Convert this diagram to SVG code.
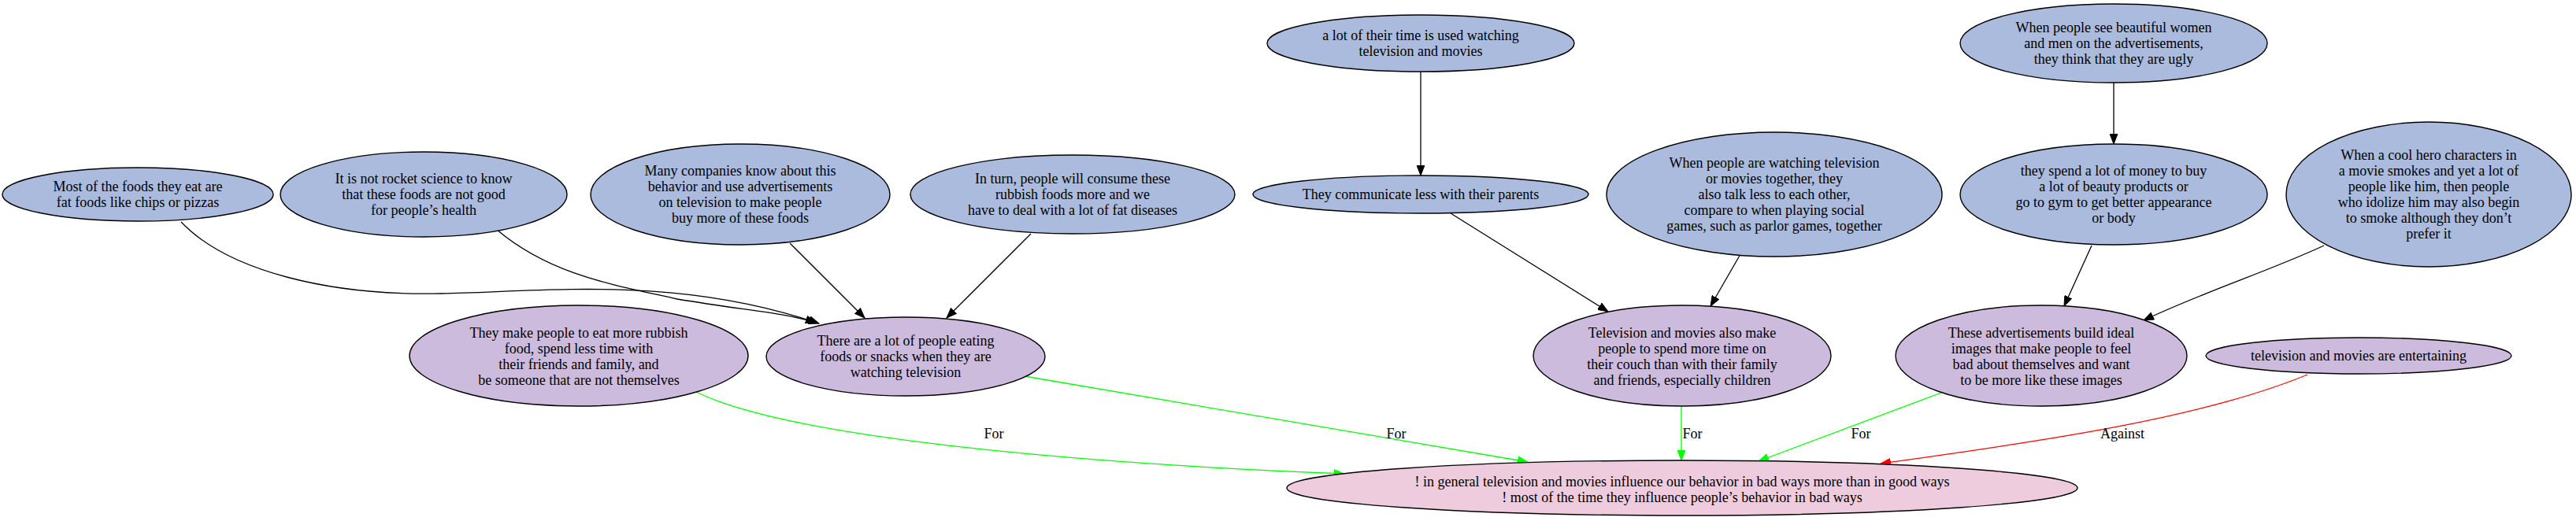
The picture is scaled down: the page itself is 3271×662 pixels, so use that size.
<svg xmlns="http://www.w3.org/2000/svg" width="3271" height="662" viewBox="0 0 3271 662">
<style>
text{font-family:"Liberation Serif","Times New Roman",serif;font-size:18px;text-anchor:middle;fill:#000}
.b{fill:#aabbdd;stroke:#000;stroke-width:1.4}
.p{fill:#ccbbdd;stroke:#000;stroke-width:1.4}
.m{fill:#eeccdd;stroke:#000;stroke-width:1.4}
.e{fill:none;stroke:#000;stroke-width:1.3}
.g{fill:none;stroke:#00ff00;stroke-width:1.3}
.r{fill:none;stroke:#ff0000;stroke-width:1.3}
</style>
<defs>
<marker id="ak" markerUnits="userSpaceOnUse" markerWidth="14" markerHeight="10" refX="13" refY="5" orient="auto"><path d="M0,0 L13,5 L0,10 z" fill="#000" stroke="#000"/></marker>
<marker id="ag" markerUnits="userSpaceOnUse" markerWidth="14" markerHeight="10" refX="13" refY="5" orient="auto"><path d="M0,0 L13,5 L0,10 z" fill="#00ff00" stroke="#00ff00"/></marker>
<marker id="ar" markerUnits="userSpaceOnUse" markerWidth="14" markerHeight="10" refX="13" refY="5" orient="auto"><path d="M0,0 L13,5 L0,10 z" fill="#ff0000" stroke="#ff0000"/></marker>
</defs>
<rect width="3271" height="662" fill="#fff"/>
<g id="connectors">
<path class="e" d="M230,282 C290,345 420,376 560,373 C700,370 860,350 1040,411" marker-end="url(#ak)"/>
<path class="e" d="M631,292 C700,350 780,362 860,380 C950,395 1000,398 1036,410" marker-end="url(#ak)"/>
<path class="e" d="M1003,309 L1098,404" marker-end="url(#ak)"/>
<path class="e" d="M1309,297 L1202,404" marker-end="url(#ak)"/>
<path class="e" d="M1804,91 L1804,223" marker-end="url(#ak)"/>
<path class="e" d="M1842,271 L2042,396" marker-end="url(#ak)"/>
<path class="e" d="M2210,323 L2172,389" marker-end="url(#ak)"/>
<path class="e" d="M2684,105 L2684,183" marker-end="url(#ak)"/>
<path class="e" d="M2656,312 L2621,389" marker-end="url(#ak)"/>
<path class="e" d="M2951,312 C2880,345 2800,370 2722,407" marker-end="url(#ak)"/>
<path class="g" d="M884,498 C1000,555 1350,588 1707,602" marker-end="url(#ag)"/>
<path class="g" d="M1301,478 L1940,587" marker-end="url(#ag)"/>
<path class="g" d="M2135,517 L2135,585" marker-end="url(#ag)"/>
<path class="g" d="M2465,499 L2233,586" marker-end="url(#ag)"/>
<path class="r" d="M2930,476 C2800,530 2600,560 2388,589" marker-end="url(#ar)"/>
<text x="1262" y="557">For</text>
<text x="1773" y="557">For</text>
<text x="2149" y="557">For</text>
<text x="2363" y="557">For</text>
<text x="2695" y="557">Against</text>
</g>
<g id="n1"><ellipse class="b" cx="175" cy="247" rx="172" ry="34"/><text x="175" y="243">Most of the foods they eat are</text><text x="175" y="263">fat foods like chips or pizzas</text></g>
<g id="n2"><ellipse class="b" cx="538" cy="247" rx="182" ry="54"/><text x="538" y="233">It is not rocket science to know</text><text x="538" y="253">that these foods are not good</text><text x="538" y="273">for people’s health</text></g>
<g id="n3"><ellipse class="b" cx="940" cy="247" rx="190" ry="64"/><text x="940" y="223">Many companies know about this</text><text x="940" y="243">behavior and use advertisements</text><text x="940" y="263">on television to make people</text><text x="940" y="283">buy more of these foods</text></g>
<g id="n4"><ellipse class="b" cx="1362" cy="247" rx="206" ry="50"/><text x="1362" y="233">In turn, people will consume these</text><text x="1362" y="253">rubbish foods more and we</text><text x="1362" y="273">have to deal with a lot of fat diseases</text></g>
<g id="n5"><ellipse class="b" cx="1804" cy="55" rx="195" ry="36"/><text x="1804" y="51">a lot of their time is used watching</text><text x="1804" y="71">television and movies</text></g>
<g id="n6"><ellipse class="b" cx="1804" cy="247" rx="213" ry="24"/><text x="1804" y="253">They communicate less with their parents</text></g>
<g id="n7"><ellipse class="b" cx="2253" cy="247" rx="213" ry="79"/><text x="2253" y="213">When people are watching television</text><text x="2253" y="233">or movies together, they</text><text x="2253" y="253">also talk less to each other,</text><text x="2253" y="273">compare to when playing social</text><text x="2253" y="293">games, such as parlor games, together</text></g>
<g id="n8"><ellipse class="b" cx="2684" cy="55" rx="195" ry="50"/><text x="2684" y="41">When people see beautiful women</text><text x="2684" y="61">and men on the advertisements,</text><text x="2684" y="81">they think that they are ugly</text></g>
<g id="n9"><ellipse class="b" cx="2684" cy="247" rx="195" ry="64"/><text x="2684" y="223">they spend a lot of money to buy</text><text x="2684" y="243">a lot of beauty products or</text><text x="2684" y="263">go to gym to get better appearance</text><text x="2684" y="283">or body</text></g>
<g id="n10"><ellipse class="b" cx="3084" cy="247" rx="181" ry="92"/><text x="3084" y="203">When a cool hero characters in</text><text x="3084" y="223">a movie smokes and yet a lot of</text><text x="3084" y="243">people like him, then people</text><text x="3084" y="263">who idolize him may also begin</text><text x="3084" y="283">to smoke although they don’t</text><text x="3084" y="303">prefer it</text></g>
<g id="n11"><ellipse class="p" cx="735" cy="452" rx="215" ry="64"/><text x="735" y="429">They make people to eat more rubbish</text><text x="735" y="449">food, spend less time with</text><text x="735" y="469">their friends and family, and</text><text x="735" y="489">be someone that are not themselves</text></g>
<g id="n12"><ellipse class="p" cx="1150" cy="453" rx="177" ry="50"/><text x="1150" y="439">There are a lot of people eating</text><text x="1150" y="459">foods or snacks when they are</text><text x="1150" y="479">watching television</text></g>
<g id="n13"><ellipse class="p" cx="2136" cy="452" rx="189" ry="64"/><text x="2136" y="429">Television and movies also make</text><text x="2136" y="449">people to spend more time on</text><text x="2136" y="469">their couch than with their family</text><text x="2136" y="489">and friends, especially children</text></g>
<g id="n14"><ellipse class="p" cx="2592" cy="452" rx="185" ry="64"/><text x="2592" y="429">These advertisements build ideal</text><text x="2592" y="449">images that make people to feel</text><text x="2592" y="469">bad about themselves and want</text><text x="2592" y="489">to be more like these images</text></g>
<g id="n15"><ellipse class="p" cx="2995" cy="452" rx="194" ry="23"/><text x="2995" y="458">television and movies are entertaining</text></g>
<g id="main"><ellipse class="m" cx="2136" cy="620" rx="502" ry="35"/><text x="2136" y="618">! in general television and movies influence our behavior in bad ways more than in good ways</text><text x="2136" y="638">! most of the time they influence people’s behavior in bad ways</text></g>
</svg>
